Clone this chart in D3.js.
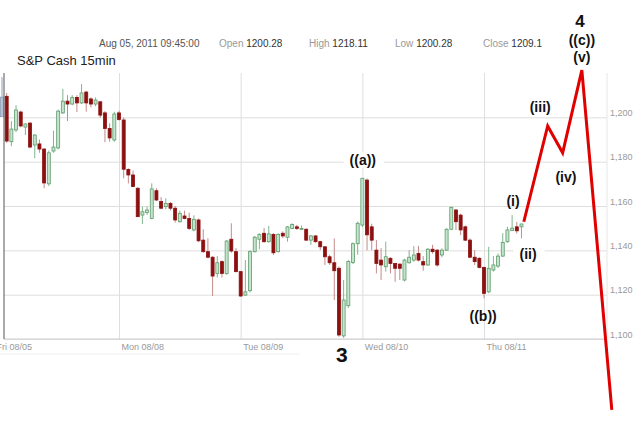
<!DOCTYPE html>
<html>
<head>
<meta charset="utf-8">
<script src="https://cdn.jsdelivr.net/npm/d3@7"></script>
<style>
  body { margin: 0; background: #fff; }
  svg { display: block; font-family: "Liberation Sans", Arial, sans-serif; }
</style>
</head>
<body>
<svg id="chart" width="640" height="424"></svg>
<script>
// 15 minute bars, [open, high, low, close], one array per session
var friBars = [
    [1200.28, 1218.11, 1200.28, 1209.1],
    [1209.5, 1211, 1188.5, 1189.3], [1189, 1198.3, 1187, 1194.7], [1194.3, 1205.5, 1193.4, 1203.3],
    [1202.4, 1203, 1195.5, 1196.1], [1195.6, 1197.3, 1192, 1197], [1197.4, 1197.8, 1186, 1186.6],
    [1187.5, 1192.5, 1181.6, 1192], [1188, 1190, 1184, 1185.7], [1185.7, 1186, 1168, 1170.4],
    [1170, 1185, 1169, 1184], [1184.8, 1194, 1184, 1186.6], [1186.2, 1203.5, 1185.5, 1202.8],
    [1202, 1212.8, 1201.5, 1207.3], [1207.3, 1210, 1198.3, 1206], [1206, 1210, 1205.5, 1209],
    [1209, 1210, 1202.4, 1206.5], [1206.5, 1215, 1206, 1211], [1211.4, 1212, 1202.6, 1206.5],
    [1208.3, 1209, 1204.5, 1206], [1206, 1209, 1205, 1207.8], [1207, 1207.3, 1199.7, 1201],
    [1202, 1202.8, 1188.8, 1195], [1195, 1197.3, 1189, 1190.7], [1189.8, 1202.5, 1189, 1201.5],
    [1202, 1203, 1198.5, 1199]
];
var monBars = [
    [1198.8, 1200, 1172.5, 1176.6], [1176.5, 1177, 1170.2, 1174], [1174, 1176, 1168.5, 1168.8],
    [1168, 1168.5, 1155, 1155.2], [1155.9, 1159.7, 1151.9, 1157.4], [1157.1, 1159.7, 1156, 1158.2],
    [1154.4, 1170.2, 1154, 1167.7], [1166.9, 1168, 1162.2, 1162.7], [1162, 1164, 1158.5, 1159],
    [1159.7, 1163.5, 1158.5, 1161.2], [1161.2, 1161.8, 1158, 1159], [1159, 1160, 1152.5, 1153.7],
    [1152.9, 1157.9, 1152.5, 1156.7], [1155.5, 1157.9, 1154, 1154.4], [1154.4, 1157, 1149.2, 1149.9],
    [1149.2, 1155.8, 1148.5, 1154], [1153.7, 1154.4, 1143.7, 1144.3], [1144.6, 1149.5, 1138.9, 1139.4],
    [1139.4, 1145.4, 1136.4, 1136.9], [1136.9, 1137.4, 1119.4, 1128.4], [1129.6, 1137.4, 1127.8, 1134.4],
    [1134.9, 1135.5, 1127.8, 1129.6], [1129.6, 1144.6, 1129, 1144.2], [1145, 1152.2, 1138.9, 1139.7],
    [1139.4, 1141, 1130, 1130.4], [1130.4, 1130.5, 1119, 1119.4]
];
var tueBars = [
    [1119.8, 1135.6, 1119.5, 1121.3], [1121.8, 1140, 1121, 1139.4], [1139.4, 1146.5, 1139, 1145.9],
    [1145, 1147.7, 1140.5, 1147.2], [1147.7, 1150, 1143.4, 1143.9], [1143.9, 1151, 1143.4, 1147.4],
    [1147.2, 1147.7, 1137.9, 1138.9], [1139.4, 1147.7, 1139, 1147.2], [1147.7, 1148.6, 1145.5, 1146.5],
    [1145.9, 1151, 1143.9, 1150.6], [1149.9, 1152.2, 1149.5, 1151.7], [1150.6, 1151.5, 1149.2, 1149.9],
    [1149.5, 1151.2, 1149.2, 1149.9], [1149.5, 1150, 1144.2, 1144.6], [1144.6, 1146.9, 1142.4, 1146.5],
    [1146.5, 1146.9, 1143.4, 1143.9], [1143.9, 1144.3, 1140.1, 1141.6], [1141.6, 1141.9, 1133.4, 1137.1],
    [1137.1, 1138, 1133.4, 1134.4], [1134.4, 1145.4, 1117.6, 1130.8], [1131.9, 1132.8, 1101, 1101.8],
    [1101.4, 1126.6, 1100.5, 1117.6], [1115, 1135.6, 1114, 1135], [1134.5, 1143.5, 1133.8, 1143],
    [1143, 1153, 1138, 1152.2], [1151.4, 1172.6, 1150.5, 1172.5]
];
var wedBars = [
    [1171.7, 1172.4, 1140, 1147], [1150.6, 1152, 1140, 1144.6], [1140.1, 1144.6, 1129.6, 1134.1],
    [1135.6, 1141, 1126.6, 1133.4], [1132.6, 1143.9, 1130.4, 1137.1], [1136.4, 1136.9, 1129.6, 1134.1],
    [1134.1, 1134.3, 1125.8, 1131.9], [1133.8, 1134, 1126.6, 1131.9], [1126.6, 1136.2, 1126, 1135.6],
    [1134.4, 1140.1, 1134, 1136.9], [1135.6, 1141.9, 1134.9, 1137.9], [1138.6, 1142, 1135, 1135.6],
    [1134.9, 1137.4, 1130.8, 1133.4], [1133.4, 1141, 1133, 1140.5], [1140.5, 1142.5, 1138.5, 1139.4],
    [1140.1, 1140.5, 1132.6, 1133.4], [1137.9, 1140.9, 1136.9, 1140.1], [1140.1, 1150, 1139.8, 1149.5],
    [1149.5, 1159.7, 1149.2, 1159.4], [1158.2, 1158.6, 1149.2, 1152.9], [1155.9, 1156.5, 1146.9, 1149.2],
    [1150.6, 1151.2, 1144.2, 1144.6], [1144.6, 1145.4, 1136.4, 1136.9], [1136.9, 1140.1, 1133.4, 1134.9],
    [1136.4, 1136.9, 1131.9, 1132.3], [1132.3, 1132.6, 1118.4, 1120.6]
];
var thuBars = [
    [1121.3, 1141.6, 1120.6, 1131.9], [1131.1, 1137.4, 1130.4, 1133.4], [1132.9, 1138.6, 1132, 1137.4],
    [1137.4, 1147.7, 1137, 1143.5], [1143.9, 1150.6, 1143.4, 1149.2], [1149, 1155.9, 1148.8, 1150],
    [1150.6, 1152.8, 1147.6, 1148.8], [1150.6, 1151.9, 1145.4, 1151.9]
];

// session gridlines (bar index) and their labels
var dayTicks = [-1.7, 25, 51, 77, 103];
var dayLabels = ['Fri 08/05', 'Mon 08/08', 'Tue 08/09', 'Wed 08/10', 'Thu 08/11'];
var priceTicks = [1100, 1120, 1140, 1160, 1180, 1200];

// hand drawn wave projection (bar index, price)
var waveIdx = [111.5, 116.6, 119.8, 123.9, 130.3];
var wavePrice = [1152.9, 1196.1, 1184, 1221.3, 1068];

// wave count labels
var waveText = ['((a))', '((b))', '(i)', '(ii)', '(iii)', '(iv)', '(v)', '((c))', '4', '3'];
var waveTextIdx = [77.1, 102.8, 109.2, 112.4, 115, 120.5, 123.9, 123.9, 123.5, 72.6];
var waveTextPrice = [1180.75, 1110.4, 1162.3, 1138.3, 1204.7, 1173.1, 1227.2, 1234.9, 1243.5, 1092.8];

var bars = friBars.concat(monBars, tueBars, wedBars, thuBars).map(function (b, i) {
    return { i: i, o: b[0], h: b[1], l: b[2], c: b[3] };
});

var plotL = 4, plotR = 607, plotT = 73, plotB = 339;

var svg = d3.select('#chart');

var x = d3.scaleLinear().domain([0, 100]).range([2, 470]);
var y = d3.scaleLinear().domain([1100, 1220]).range([plotB, plotT]);

// header
var sel = bars[0];
svg.append('text')
    .attr('x', 99).attr('y', 47)
    .attr('font-size', 10).attr('fill', '#555')
    .text('Aug 05, 2011 09:45:00');

var fields = [['Open', sel.o, 219], ['High', sel.h, 309], ['Low', sel.l, 395], ['Close', sel.c, 483]];
fields.forEach(function (f) {
    var t = svg.append('text')
        .attr('x', f[2]).attr('y', 47)
        .attr('font-size', 10);
    t.append('tspan').attr('fill', '#999').text(f[0] + ' ');
    t.append('tspan').attr('fill', '#333').text(f[1]);
});

svg.append('text')
    .attr('x', 17).attr('y', 65)
    .attr('font-size', 13).attr('fill', '#222')
    .text('S&P Cash 15min');

// grid + axes
var yAxis = d3.axisRight(y)
    .tickValues(priceTicks)
    .tickSize(-(plotR - plotL))
    .tickFormat(d3.format(','));

var gy = svg.append('g')
    .attr('transform', 'translate(' + plotR + ',0)')
    .call(yAxis);
gy.select('.domain').remove();
gy.selectAll('line').attr('stroke', '#dedede');
gy.selectAll('text')
    .attr('x', 3).attr('dy', 0).attr('y', -2)
    .attr('fill', '#999').attr('font-size', 9)
    .attr('font-family', '"Liberation Sans", Arial, sans-serif');

var xAxis = d3.axisBottom(x)
    .tickValues(dayTicks)
    .tickSize(-(plotB - plotT))
    .tickFormat(function (d, i) { return dayLabels[i]; });

var gx = svg.append('g')
    .attr('transform', 'translate(0,' + plotB + ')')
    .call(xAxis);
gx.select('.domain').remove();
gx.selectAll('line').attr('stroke', '#dedede');
gx.selectAll('text')
    .attr('x', 2).attr('y', 11).attr('dy', 0)
    .attr('text-anchor', 'start')
    .attr('fill', '#999').attr('font-size', 9)
    .attr('font-family', '"Liberation Sans", Arial, sans-serif');

// frame
svg.append('line')
    .attr('x1', plotL).attr('x2', plotR).attr('y1', plotB).attr('y2', plotB)
    .attr('stroke', '#cfcfcf');
svg.append('line')
    .attr('x1', plotR).attr('x2', plotR).attr('y1', plotT).attr('y2', plotB)
    .attr('stroke', '#e6e6e6');
svg.append('line')
    .attr('x1', 0).attr('x2', 300).attr('y1', plotB + 15).attr('y2', plotB + 15)
    .attr('stroke', '#f0f0f0');

// candles
var g = svg.selectAll('.bar')
    .data(bars)
    .enter().append('g')
    .attr('class', 'bar');

function isUp(d) { return d.c >= d.o; }

g.append('line')
    .attr('x1', function (d) { return x(d.i); })
    .attr('x2', function (d) { return x(d.i); })
    .attr('y1', function (d) { return y(d.h); })
    .attr('y2', function (d) { return y(d.l); })
    .attr('stroke', function (d) {
        if (d.i === 0) return '#8c9db5';
        return isUp(d) ? '#7fb48c' : '#c48a8a';
    })
    .attr('stroke-width', 1);

g.append('rect')
    .attr('x', function (d) { return x(d.i) - 1.5; })
    .attr('width', 3)
    .attr('y', function (d) { return y(Math.max(d.o, d.c)); })
    .attr('height', function (d) { return Math.max(1, Math.abs(y(d.o) - y(d.c))); })
    .attr('fill', function (d) {
        if (d.i === 0) return '#b3c2d6';
        return isUp(d) ? '#c4e4cb' : '#8c1010';
    })
    .attr('stroke', function (d) {
        if (d.i === 0) return '#8c9db5';
        return isUp(d) ? '#5e9c6d' : '#8c1010';
    })
    .attr('stroke-width', 0.8);

// left axis line
svg.append('line')
    .attr('x1', plotL).attr('x2', plotL).attr('y1', plotT).attr('y2', plotB)
    .attr('stroke', '#555');

// wave projection
var wave = waveIdx.map(function (d, i) { return { i: d, v: wavePrice[i] }; });
var waveLine = d3.line()
    .x(function (d) { return x(d.i); })
    .y(function (d) { return y(d.v); });

svg.append('path')
    .datum(wave)
    .attr('d', waveLine)
    .attr('fill', 'none')
    .attr('stroke', '#e00000')
    .attr('stroke-width', 3)
    .attr('stroke-linejoin', 'miter');

// labels
var labels = waveText.map(function (t, i) {
    return { t: t, i: waveTextIdx[i], v: waveTextPrice[i] };
});

var lg = svg.selectAll('.wl')
    .data(labels)
    .enter().append('g')
    .attr('class', 'wl');

lg.append('text')
    .attr('x', function (d) { return x(d.i); })
    .attr('y', function (d) { return y(d.v); })
    .attr('dy', '0.35em')
    .attr('text-anchor', 'middle')
    .attr('font-weight', 'bold')
    .attr('font-size', function (d) {
        if (d.t === '3') return 21;
        if (d.t === '4') return 17;
        return 14;
    })
    .attr('fill', '#111')
    .text(function (d) { return d.t; });

// white paste-up boxes behind a couple of labels
lg.filter(function (d) { return d.t === '((a))' || d.t === '(ii)'; })
    .each(function () {
        var grp = d3.select(this);
        var bb = grp.select('text').node().getBBox();
        grp.insert('rect', 'text')
            .attr('x', bb.x - 6).attr('y', bb.y)
            .attr('width', bb.width + 14).attr('height', bb.height)
            .attr('fill', '#fff');
    });
</script>
</body>
</html>
